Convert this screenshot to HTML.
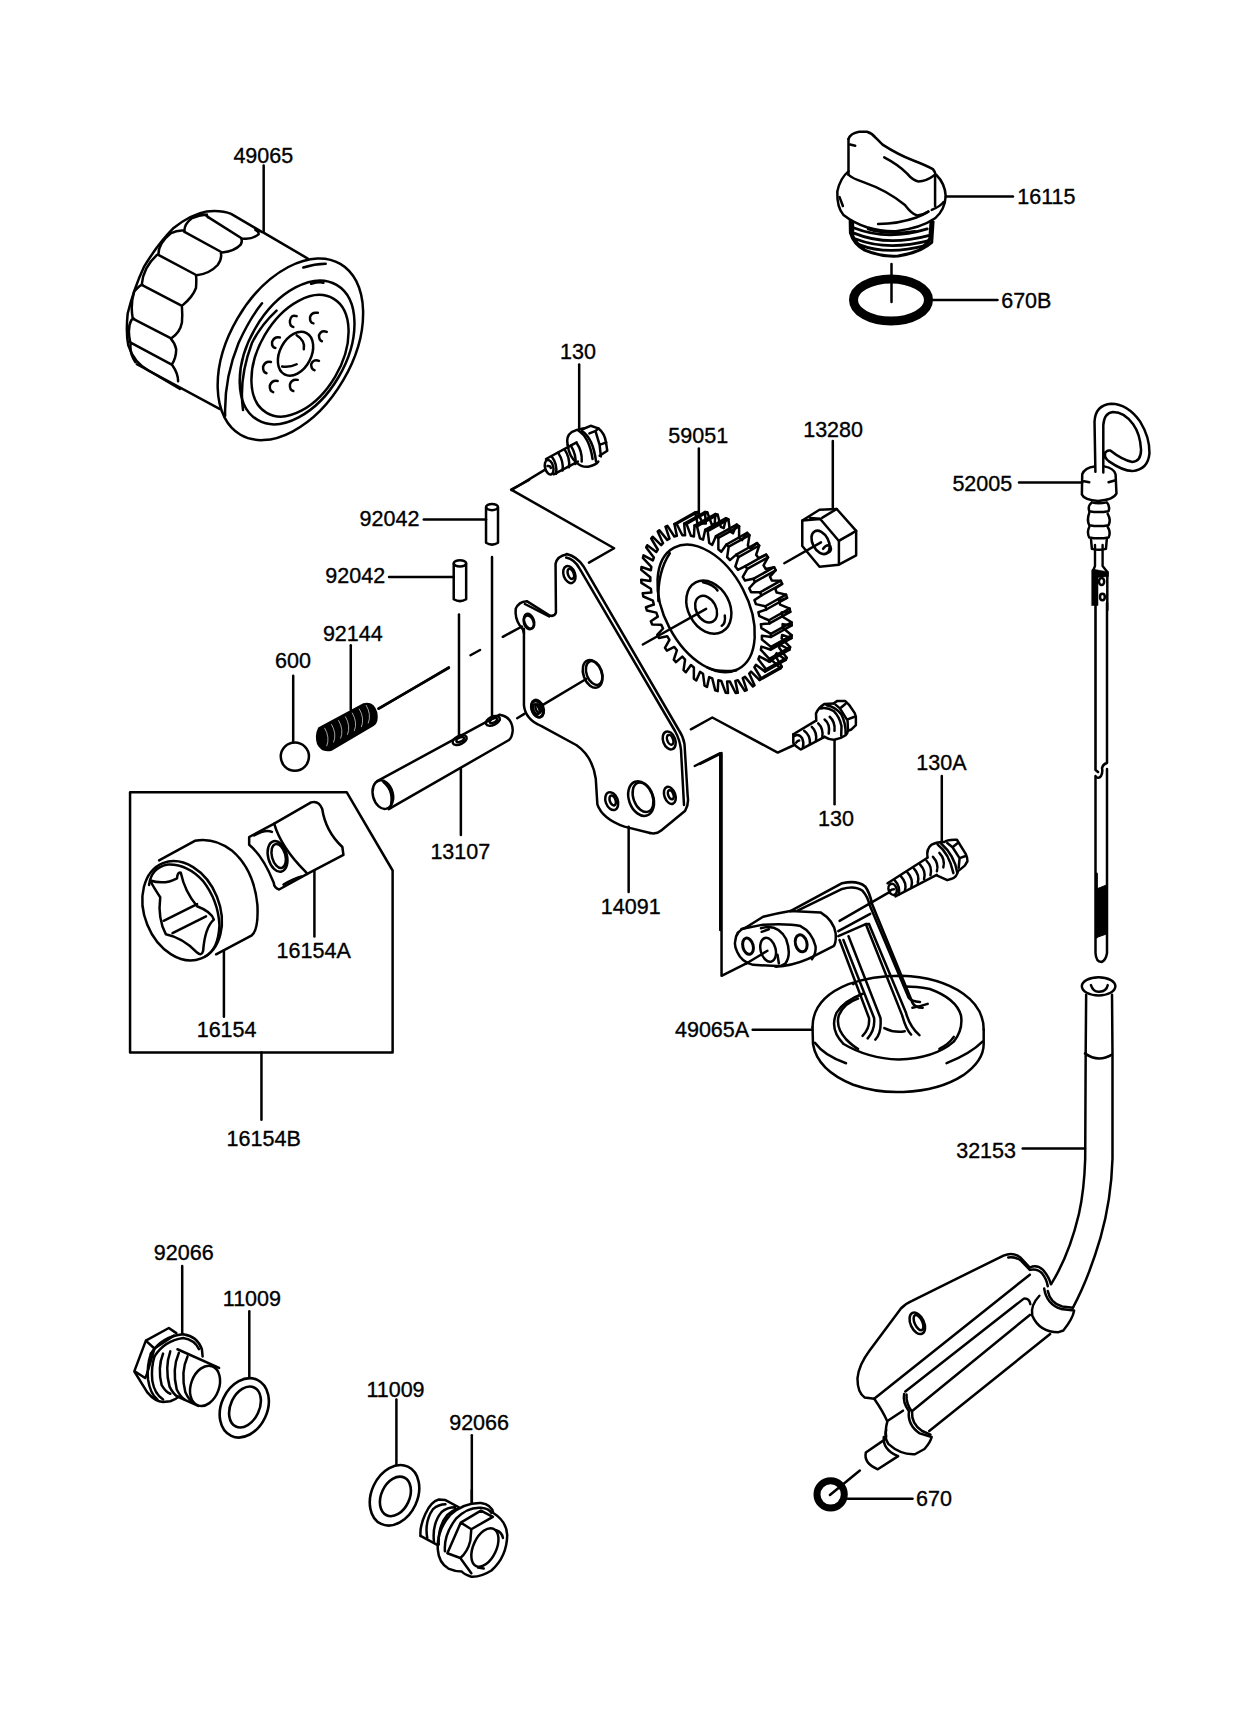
<!DOCTYPE html>
<html><head><meta charset="utf-8"><style>
html,body{margin:0;padding:0;background:#fff;}
svg{display:block;}
text{font-family:"Liberation Sans",sans-serif;font-size:21.5px;fill:#000;stroke:#000;stroke-width:0.35px;}
.s path,.s line,.s ellipse,.s polyline,.s polygon,.s circle,.s rect{fill:none;stroke:#000;stroke-width:2.5;vector-effect:non-scaling-stroke;stroke-linecap:round;stroke-linejoin:round;}
</style></head><body>
<svg width="1253" height="1729" viewBox="0 0 1253 1729">
<rect x="0" y="0" width="1253" height="1729" fill="#fff"/>
<!-- LABELS -->
<g id="labels">
<text x="233.4" y="162.5">49065</text>
<text x="1017.3" y="203.5">16115</text>
<text x="1001.2" y="308.1">670B</text>
<text x="560.0" y="358.9">130</text>
<text x="668.3" y="443.2">59051</text>
<text x="803.2" y="437.1">13280</text>
<text x="952.4" y="491.0">52005</text>
<text x="359.6" y="526.4">92042</text>
<text x="325.3" y="583.3">92042</text>
<text x="322.9" y="640.5">92144</text>
<text x="275.0" y="668.2">600</text>
<text x="916.3" y="770.2">130A</text>
<text x="818.0" y="825.5">130</text>
<text x="430.4" y="859.1">13107</text>
<text x="600.8" y="914.0">14091</text>
<text x="276.6" y="957.9">16154A</text>
<text x="196.7" y="1036.7">16154</text>
<text x="675.0" y="1036.6">49065A</text>
<text x="226.6" y="1146.2">16154B</text>
<text x="956.2" y="1157.8">32153</text>
<text x="153.8" y="1259.5">92066</text>
<text x="222.8" y="1305.7">11009</text>
<text x="366.4" y="1397.2">11009</text>
<text x="449.2" y="1430.3">92066</text>
<text x="916.1" y="1505.6">670</text>
</g>
<!-- FILTER 49065: lobes (zoom origin 120,205 scale 7.83) -->
<g class="s" transform="translate(120,205) scale(0.12771)">
<line x1="1125" y1="-310" x2="1125" y2="210"/>
<path d="M1110,210 L870,70 Q800,40 680,50 Q560,70 420,180 Q300,300 190,480 Q110,650 60,850 Q45,1000 65,1100 Q110,1240 230,1300 L470,1440"/>
<path d="M690,95 L955,262 Q1030,275 1085,230 Q1090,210 1060,195"/>
<path d="M505,210 L800,372 Q900,360 945,310 Q960,280 950,265"/>
<path d="M300,390 L600,550 Q700,540 765,470 Q800,420 790,380"/>
<path d="M170,625 L485,790 Q570,720 595,650 Q600,580 595,555"/>
<path d="M100,890 L400,1045 Q470,1000 485,920 Q490,860 485,800"/>
<path d="M80,1075 L405,1250 Q440,1200 440,1130 Q430,1080 400,1050"/>
<path d="M410,1255 Q455,1320 455,1380"/>
<path d="M690,95 Q660,60 600,80 M505,210 Q500,150 560,105 Q620,80 680,75 M300,390 Q300,300 400,220 Q450,195 500,200 M170,625 Q180,490 290,390 M100,890 Q80,780 110,680 Q150,630 175,625 M80,1075 Q55,960 90,900 Q100,890 110,890 M85,1080 Q70,1150 120,1230"/>
</g>
<!-- FILTER face (origin 100,200 scale 4.475) -->
<g class="s" transform="translate(100,200) scale(0.22346)">
<ellipse cx="852" cy="668" rx="443" ry="274" transform="rotate(-59.7 852 668)"/>
<path d="M560,965 Q555,800 620,640 Q670,530 725,462"/>
<path d="M910,302 Q960,285 1010,285"/>
<ellipse cx="882" cy="682" rx="350" ry="216" transform="rotate(-59.7 882 682)"/>
<path d="M640,940 Q620,800 680,640 Q720,560 790,495"/>
<path d="M945,375 Q980,365 1000,370"/>
<ellipse cx="895" cy="697" rx="296" ry="183" transform="rotate(-59.7 895 697)"/>
<path d="M165,735 L535,935"/>
<path d="M730,145 L930,262"/>
<ellipse cx="875" cy="688" rx="105" ry="70" transform="rotate(-62 875 688)"/>
<path d="M880,605 Q920,630 912,668 M815,745 Q850,750 880,735"/>
<path d="M880,520 Q855,510 850,540 Q848,565 865,568"/>
<path d="M975,505 Q945,500 940,525 Q938,548 955,552"/>
<path d="M1015,590 Q990,580 980,605 Q980,628 993,632"/>
<path d="M805,615 Q780,610 770,635 Q768,660 785,662"/>
<path d="M980,720 Q955,710 945,735 Q945,758 960,762"/>
<path d="M765,725 Q740,720 730,745 Q728,770 745,775"/>
<path d="M795,810 Q770,805 760,830 Q758,855 775,860"/>
<path d="M885,805 Q858,800 850,825 Q848,850 865,855"/>
</g>
<!-- CAP 16115 (origin 820,120 scale 8.95) -->
<g class="s" transform="translate(820,120) scale(0.11173)">
<path d="M255,170 L255,490"/>
<path d="M255,170 Q270,120 350,105 L420,105 Q470,120 500,160 L560,220 Q700,310 830,360 Q960,410 1010,440 Q1035,470 1030,490"/>
<path d="M270,220 L315,230"/>
<path d="M575,335 Q700,400 780,480 Q830,540 880,550 Q950,550 1030,490"/>
<path d="M1030,500 L1030,770"/>
<path d="M255,490 Q280,520 400,560 Q600,630 760,760 Q820,840 870,855 Q930,850 970,820"/>
<path d="M255,460 Q180,520 155,640 Q150,780 210,850 Q300,920 420,960 Q560,1000 680,995 Q900,970 1030,880 Q1120,800 1125,680 Q1120,570 1040,490"/>
<path d="M175,690 L205,770"/>
<path d="M1000,805 Q1080,770 1105,735"/>
<path d="M520,930 Q700,930 870,870 Q930,845 970,820"/>
<path d="M270,900 L272,1010 Q300,1110 400,1165 Q550,1228 700,1218 Q900,1185 1000,1095 L1012,910" style="stroke-width:3"/>
<path d="M290,920 L292,1040 Q320,1110 390,1150 M995,920 L985,1060 Q960,1110 900,1150" style="stroke-width:3.5"/>
<path d="M300,965 Q600,1085 960,975" style="stroke-width:2.8"/>
<path d="M310,1015 Q600,1135 970,1035" style="stroke-width:2.8"/>
<path d="M320,1065 Q600,1175 975,1080" style="stroke-width:2.8"/>
<path d="M350,1115 Q600,1215 940,1125" style="stroke-width:2.8"/>
<path d="M430,975 Q600,1030 850,995" style="stroke-width:2.5"/>
<path d="M1125,685 L1727,685"/>
</g>
<!-- O-ring 670B -->
<g class="s">
<ellipse cx="891" cy="300" rx="37.5" ry="21" style="stroke-width:9"/>
<line x1="891.5" y1="264" x2="891.5" y2="302"/>
<line x1="933" y1="300" x2="997.5" y2="300"/>
</g>
<!-- BOLT 130 top (origin 500,330 scale 7.83) -->
<g class="s" transform="translate(500,330) scale(0.12771)">
<line x1="620" y1="270" x2="620" y2="775"/>
<path d="M530,900 Q515,830 560,800 Q600,780 650,772"/>
<path d="M610,785 Q700,840 725,1010"/>
<path d="M640,790 Q730,850 752,1030"/>
<path d="M530,900 Q540,990 600,1040 Q640,1075 690,1070 Q750,1060 770,1030"/>
<path d="M650,775 L710,750 L770,770 Q820,810 830,880 L840,945 L780,985"/>
<path d="M700,810 L750,790 L770,770"/>
<path d="M750,800 L780,900 L790,990 M780,900 L832,880"/>
<path d="M360,1010 L600,880"/>
<path d="M420,1130 L610,1030"/>
<path d="M405,990 Q450,1050 440,1125 M455,960 Q500,1030 490,1100 M505,935 Q550,1000 540,1075 M555,905 Q600,980 590,1050 M600,885 Q645,950 640,1030"/>
<ellipse cx="385" cy="1075" rx="32" ry="58" transform="rotate(-15 385 1075)"/>
<path d="M372,1065 Q395,1062 398,1080"/>
<path d="M350,1095 L90,1253"/>
</g>
<!-- PINS / PLATE top (origin 340,480 scale 4.177) -->
<g class="s" transform="translate(340,480) scale(0.2394)">
<path d="M610,115 L610,262 Q635,278 660,262 L660,115"/>
<ellipse cx="635" cy="113" rx="25" ry="13"/>
<path d="M475,350 L475,498 Q501,514 527,498 L527,350"/>
<ellipse cx="501" cy="348" rx="26" ry="13"/>
<line x1="635" y1="322" x2="635" y2="985"/>
<line x1="497" y1="562" x2="497" y2="1065"/>
<line x1="350" y1="165" x2="610" y2="165"/>
<line x1="205" y1="405" x2="475" y2="405"/>
<line x1="45" y1="690" x2="45" y2="960"/>
<path d="M790,0 L715,40 L1145,285 L1040,345"/>
<path d="M768.3,640 Q766,622 750,606 Q730,575 734,538 Q746,508 780,506 L876,566 Q896,572 902,554 L900.4,350 Q906,318 948,310"/>
<path d="M772,518 L874,570"/>
<ellipse cx="958" cy="395" rx="24" ry="37" transform="rotate(-20 958 395)"/>
<ellipse cx="964" cy="392" rx="12" ry="22" transform="rotate(-20 964 392)"/>
<ellipse cx="790" cy="590" rx="20" ry="32" transform="rotate(-20 790 590)"/>
<ellipse cx="825" cy="955" rx="25" ry="38" transform="rotate(-20 825 955)"/>
<ellipse cx="820" cy="958" rx="12" ry="22" transform="rotate(-20 820 958)"/>
<ellipse cx="1055" cy="810" rx="38" ry="60" transform="rotate(-20 1055 810)"/>
<ellipse cx="1062" cy="806" rx="32" ry="52" transform="rotate(-20 1062 806)"/>
<line x1="1030" y1="830" x2="830" y2="950"/>
<line x1="740" y1="995" x2="770" y2="977"/>
<line x1="160" y1="955" x2="455" y2="785"/>
<line x1="545" y1="732" x2="585" y2="710"/>
<line x1="680" y1="655" x2="760" y2="612"/>
</g>
<!-- NUT 13280 (origin 780,500 scale 13.92) -->
<g class="s" transform="translate(780,500) scale(0.07184)">
<line x1="735" y1="-820" x2="735" y2="125"/>
<path d="M310,285 L550,135 L790,125 L1060,430 L1060,770 L820,900 L550,930 L310,640 Z"/>
<path d="M310,285 L560,265 L820,570 L820,895"/>
<path d="M420,250 L560,262 M590,245 L790,125 M820,570 L1060,430 M840,555 L1005,465"/>
<ellipse cx="565" cy="590" rx="110" ry="175" transform="rotate(-28 565 590)" style="stroke-width:2.6"/>
<path d="M600,680 Q650,610 700,640 Q730,720 660,735"/>
<line x1="60" y1="880" x2="570" y2="590"/>
</g>
<!--GEAR--><g class="s" transform="translate(620,410) scale(0.20751)">
<line x1="380" y1="185" x2="380" y2="500"/>
<path d="M591.6,1292.4 L610.8,1349.8 L601.3,1353.8 L568.1,1302.2 L555.9,1305.4 L567.8,1362.6 L557.3,1364.0 L529.7,1308.7 L516.2,1308.8 L520.7,1364.3 L509.5,1363.1 L488.1,1305.7 L473.8,1302.6 L470.8,1354.9 L459.0,1351.2 L444.5,1293.1 L429.9,1286.9 L419.3,1334.6 L407.4,1328.4 L400.1,1271.3 L385.5,1262.2 L367.7,1303.9 L355.9,1295.5 L356.1,1240.9 L341.9,1229.1 L317.3,1263.8 L306.1,1253.3 L313.7,1202.8 L300.3,1188.6 L269.7,1215.2 L259.2,1203.0 L274.1,1157.9 L261.8,1141.8 L226.0,1159.6 L216.6,1146.0 L238.3,1107.5 L227.5,1089.9 L187.4,1098.5 L179.4,1083.8 L207.4,1053.0 L198.4,1034.3 L155.1,1033.4 L148.6,1018.1 L182.1,995.8 L175.1,976.6 L129.9,966.3 L125.1,950.7 L163.1,937.5 L158.4,918.3 L112.4,898.8 L109.5,883.5 L151.1,879.8 L148.6,861.1 L103.2,832.9 L102.3,818.2 L146.2,824.1 L146.2,806.4 L102.5,770.4 L103.5,756.7 L148.7,772.0 L151.1,755.9 L110.3,713.0 L113.3,700.6 L158.4,725.0 L163.1,710.8 L126.4,662.1 L131.3,651.5 L175.1,684.2 L182.1,672.3 L150.4,619.3 L157.0,610.7 L198.4,650.9 L207.4,641.7 L181.7,585.7 L189.8,579.4 L227.6,625.9 L238.4,619.6 L219.2,562.2 L228.7,558.2 L261.9,609.8 L274.1,606.6 L262.2,549.4 L272.7,548.0 L300.3,603.3 L313.8,603.2 L309.3,547.7 L320.5,548.9 L341.9,606.3 L356.2,609.4 L359.2,557.1 L371.0,560.8 L385.5,618.9 L400.1,625.1 L410.7,577.4 L422.6,583.6 L429.9,640.7 L444.5,649.8 L462.3,608.1 L474.1,616.5 L473.9,671.1 L488.1,682.9 L512.7,648.2 L523.9,658.7 L516.3,709.2 L529.7,723.4 L560.3,696.8 L570.8,709.0 L555.9,754.1 L568.2,770.2 L604.0,752.4 L613.4,766.0 L591.7,804.5 L602.5,822.1 L642.6,813.5 L650.6,828.2 L622.6,859.0 L631.6,877.7 L674.9,878.6 L681.4,893.9 L647.9,916.2 L654.9,935.4 L700.1,945.7 L704.9,961.3 L666.9,974.5 L671.6,993.7 L717.6,1013.2 L720.5,1028.5 L678.9,1032.2 L681.4,1050.9 L726.8,1079.1 L727.7,1093.8 L683.8,1087.9 L683.8,1105.6 L727.5,1141.6 L726.5,1155.3 L681.3,1140.0 L678.9,1156.1 L719.7,1199.0 L716.7,1211.4 L671.6,1187.0 L666.9,1201.2 L703.6,1249.9 L698.7,1260.5 L654.9,1227.8 L647.9,1239.7 L679.6,1292.7 L673.0,1301.3 L631.6,1261.1 L622.6,1270.3 L648.3,1326.3 L640.2,1332.6 L602.4,1286.1 Z"/>
<path d="M374.1,550.6 L362.2,493.4 L372.7,492.0 L400.3,547.3 L413.8,547.2 M413.8,547.2 L409.3,491.7 L420.5,492.9 L441.9,550.3 L456.2,553.4 M456.2,553.4 L459.2,501.1 L471.0,504.8 L485.5,562.9 L500.1,569.1 M500.1,569.1 L510.7,521.4 L522.6,527.6 L529.9,584.7 L544.5,593.8 M544.5,593.8 L562.3,552.1 L574.1,560.5 L573.9,615.1 L588.1,626.9 M588.1,626.9 L612.7,592.2 L623.9,602.7 L616.3,653.2 L629.7,667.4 M629.7,667.4 L660.3,640.8 L670.8,653.0 L655.9,698.1 L668.2,714.2 M668.2,714.2 L704.0,696.4 L713.4,710.0 L691.7,748.5 L702.5,766.1 M702.5,766.1 L742.6,757.5 L750.6,772.2 L722.6,803.0 L731.6,821.7 M731.6,821.7 L774.9,822.6 L781.4,837.9 L747.9,860.2 L754.9,879.4 M754.9,879.4 L800.1,889.7 L804.9,905.3 L766.9,918.5 L771.6,937.7 M771.6,937.7 L817.6,957.2 L820.5,972.5 L778.9,976.2 L781.4,994.9 M781.4,994.9 L826.8,1023.1 L827.7,1037.8 L783.8,1031.9 L783.8,1049.6 M783.8,1049.6 L827.5,1085.6 L826.5,1099.3 L781.3,1084.0 L778.9,1100.1 M778.9,1100.1 L819.7,1143.0 L816.7,1155.4 L771.6,1131.0 L766.9,1145.2 M766.9,1145.2 L803.6,1193.9 L798.7,1204.5 L754.9,1171.8 L747.9,1183.7 M747.9,1183.7 L779.6,1236.7 L773.0,1245.3 L731.6,1205.1 L722.6,1214.3"/>
<path d="M262.2,549.4 L362.2,493.4 M272.7,548.0 L372.7,492.0 M309.3,547.7 L409.3,491.7 M320.5,548.9 L420.5,492.9 M359.2,557.1 L459.2,501.1 M371.0,560.8 L471.0,504.8 M410.7,577.4 L510.7,521.4 M422.6,583.6 L522.6,527.6 M462.3,608.1 L562.3,552.1 M474.1,616.5 L574.1,560.5 M512.7,648.2 L612.7,592.2 M523.9,658.7 L623.9,602.7 M560.3,696.8 L660.3,640.8 M570.8,709.0 L670.8,653.0 M604.0,752.4 L704.0,696.4 M613.4,766.0 L713.4,710.0 M642.6,813.5 L742.6,757.5 M650.6,828.2 L750.6,772.2 M674.9,878.6 L774.9,822.6 M681.4,893.9 L781.4,837.9 M700.1,945.7 L800.1,889.7 M704.9,961.3 L804.9,905.3 M717.6,1013.2 L817.6,957.2 M720.5,1028.5 L820.5,972.5 M726.8,1079.1 L826.8,1023.1 M727.7,1093.8 L827.7,1037.8 M727.5,1141.6 L827.5,1085.6 M726.5,1155.3 L826.5,1099.3 M719.7,1199.0 L819.7,1143.0 M716.7,1211.4 L816.7,1155.4 M703.6,1249.9 L803.6,1193.9 M698.7,1260.5 L798.7,1204.5 M679.6,1292.7 L779.6,1236.7 M673.0,1301.3 L773.0,1245.3"/>
<ellipse cx="415" cy="956" rx="331" ry="200" transform="rotate(62.3 415 956)"/>
<path d="M185,920 Q180,780 240,690"/>
<ellipse cx="428" cy="950" rx="135" ry="100" transform="rotate(62 428 950)"/>
<ellipse cx="415" cy="960" rx="68" ry="48" transform="rotate(62 415 960)"/>
<path d="M400,830 Q450,840 470,870 M505,990 Q510,1030 490,1040"/>
<line x1="110" y1="1130" x2="415" y2="958"/>
<path d="M420,1240 Q470,1265 560,1255"/>
</g><!--/GEAR-->
<!-- SPRING/BALL/SHAFT (origin 260,640 scale 4.819) -->
<g class="s" transform="translate(260,640) scale(0.20751)">
<line x1="160" y1="172" x2="160" y2="495"/>
<circle cx="168" cy="562" r="68"/>
<path d="M285,425 L500,310 Q545,300 560,350 Q568,395 545,410 L345,528 Q300,540 280,500 Q268,460 285,425 Z" style="fill:#000;stroke-width:2.3"/>
<path d="M312,425 Q338,470 322,510 M345,407 Q371,452 355,492 M379,388 Q405,433 389,473 M412,370 Q438,415 422,455 M445,352 Q471,397 455,437 M479,333 Q505,378 489,418 M512,315 Q538,360 522,400 " style="stroke:#fff;stroke-width:0.8;opacity:0.8"/>
<path d="M565,680 L1155,360 Q1215,370 1218,435 Q1215,470 1200,482 L620,815"/>
<ellipse cx="592" cy="745" rx="48" ry="70" transform="rotate(-15 592 745)"/>
<path d="M595,685 Q650,730 628,810"/>
<ellipse cx="962" cy="482" rx="36" ry="20" transform="rotate(-25 962 482)"/>
<ellipse cx="965" cy="480" rx="20" ry="10" transform="rotate(-25 965 480)"/>
<ellipse cx="1122" cy="390" rx="36" ry="20" transform="rotate(-25 1122 390)"/>
<ellipse cx="1125" cy="388" rx="20" ry="10" transform="rotate(-25 1125 388)"/>
<line x1="968" y1="620" x2="968" y2="940"/>
<line x1="575" y1="330" x2="910" y2="132"/>
</g>
<!-- PLATE lower + bolt130 lower (origin 500,600 scale 3.1325) -->
<g class="s" transform="translate(500,600) scale(0.31923)">
<path d="M75,90 L75,330 Q80,375 130,395 L240,455 Q290,490 300,560 L305,640 Q320,685 390,710 L470,730"/>
<ellipse cx="90" cy="70" rx="15" ry="22" transform="rotate(-20 90 70)"/>
<ellipse cx="117" cy="342" rx="17" ry="26" transform="rotate(-20 117 342)"/>
<ellipse cx="120" cy="340" rx="8" ry="14" transform="rotate(-20 120 340)"/>
<ellipse cx="530" cy="440" rx="19" ry="29" transform="rotate(-20 530 440)"/>
<ellipse cx="533" cy="438" rx="9" ry="16" transform="rotate(-20 533 438)"/>
<ellipse cx="350" cy="630" rx="19" ry="29" transform="rotate(-20 350 630)"/>
<ellipse cx="353" cy="628" rx="9" ry="16" transform="rotate(-20 353 628)"/>
<ellipse cx="442" cy="622" rx="38" ry="56" transform="rotate(-20 442 622)"/>
<ellipse cx="448" cy="618" rx="30" ry="48" transform="rotate(-20 448 618)"/>
<ellipse cx="532" cy="612" rx="17" ry="28" transform="rotate(-20 532 612)"/>
<ellipse cx="535" cy="610" rx="8" ry="15" transform="rotate(-20 535 610)"/>
<line x1="403" y1="710" x2="403" y2="915"/>
<path d="M598,405 L665,368 L870,478 L920,455"/>
<path d="M610,520 L690,480 L690,1034"/>
<line x1="1048" y1="440" x2="1048" y2="640"/>
</g>
<!-- plate right edge (source coords) -->
<g class="s">
<path d="M566.8,554 Q577,556.6 583.4,566.2 L678.8,730 Q683,736 684.5,744 L687.7,796.3 Q689,804 685.2,810.7 L661.2,830.5 Q656.4,834.6 650,833"/>
<path d="M566.2,557.5 Q574.5,559.2 579.6,568.7 L675,731 Q680,740 681,750 L684,805"/>
</g>
<!-- STRAINER 49065A + bolt 130A (origin 700,740 scale 4.177) -->
<g class="s" transform="translate(700,740) scale(0.2394)">
<line x1="1010" y1="150" x2="1010" y2="420"/>
<line x1="220" y1="1210" x2="470" y2="1210"/>
<path d="M0,100 L90,55 L90,985 L200,930"/>
<path d="M470,1200 Q470,1080 620,1020 Q720,985 840,985 Q1000,990 1100,1060 Q1185,1120 1185,1210"/>
<path d="M470,1200 L472,1270 Q490,1380 640,1440 Q740,1475 850,1470 Q1000,1465 1100,1400 Q1185,1340 1185,1270 L1185,1210"/>
<path d="M480,1265 Q520,1320 610,1350 M1030,1350 Q1130,1310 1180,1260"/>
<path d="M640,1020 L650,1010"/>
<path d="M680,1060 Q600,1090 570,1140 Q540,1210 600,1270 Q700,1330 830,1335 Q980,1330 1060,1260 Q1100,1210 1090,1150 Q1070,1080 960,1040 Q900,1030 860,1030"/>
<path d="M1000,1290 Q1040,1270 1060,1240"/>
<path d="M660,1080 Q600,1100 580,1150 Q565,1200 610,1250 Q640,1280 660,1290"/>
</g>
<!-- BOX 16154B (origin 120,780 scale 4.475) -->
<g class="s" transform="translate(120,780) scale(0.22346)">
<path d="M45,55 L1015,55 L1220,405 L1220,1220 L45,1220 Z"/>
<line x1="633" y1="1220" x2="633" y2="1520"/>
<line x1="465" y1="762" x2="465" y2="1060"/>
<line x1="870" y1="410" x2="870" y2="700"/>
<ellipse cx="278" cy="585" rx="168" ry="230" transform="rotate(-22 278 585)"/>
<path d="M130,470 Q140,390 215,378 Q300,375 370,450 Q440,540 445,650 Q440,760 380,790"/>
<path d="M175,360 L335,272 Q420,255 500,315 Q600,400 615,560 Q620,670 590,695 L430,780"/>
<path d="M135,450 Q200,470 255,440 Q258,410 272,415 Q290,500 345,565 Q410,590 420,625 Q380,660 372,765 Q365,790 345,772 Q280,705 205,690 Q168,620 180,525 Q150,480 135,450 Z"/>
<path d="M195,630 L345,555 M235,685 L385,610"/>
<path d="M578,255 L690,195 Q720,300 830,410 L838,420 L712,490 Q690,482 688,460 Q640,340 578,290 Z"/>
<path d="M690,195 L855,100 Q890,90 905,130 Q920,230 995,300 L1000,335 L838,420"/>
<ellipse cx="705" cy="342" rx="42" ry="70" transform="rotate(-15 705 342)"/>
<ellipse cx="710" cy="340" rx="30" ry="55" transform="rotate(-15 710 340)"/>
<path d="M600,248 Q650,220 680,232 M732,468 Q780,440 812,432"/>
</g>
<!-- DIPSTICK top (origin 940,390 scale 5.695) -->
<g class="s" transform="translate(940,390) scale(0.17559)">
<line x1="450" y1="527" x2="810" y2="527"/>
<path d="M885,465 L880,180 Q885,85 975,78 Q1070,80 1140,180 Q1195,270 1193,360 Q1185,455 1095,462 Q1040,460 960,405 Q935,385 940,360 Q950,340 970,345 Q1040,400 1095,410 Q1145,405 1145,340 Q1140,250 1100,195 Q1050,125 985,125 Q935,130 930,200 L930,470"/>
<path d="M880,435 Q825,440 810,480 L808,595 Q820,625 900,632 Q990,625 1005,590 L1000,480 Q990,445 935,435"/>
<path d="M820,520 L850,525 M960,525 L995,515"/>
<path d="M865,640 Q840,660 850,690 Q900,700 960,690 Q970,660 950,640 Q900,650 865,640"/>
<path d="M850,700 Q835,740 850,770 Q905,780 960,770 Q975,740 955,705"/>
<path d="M850,780 Q835,810 850,840 Q905,850 960,840 Q975,810 955,780"/>
<path d="M860,850 L865,905 Q905,915 945,905 L950,850"/>
</g>
<!-- DIPSTICK rod (source coords) -->
<g class="s">
<path d="M1095.5,603 L1095.5,770 L1098,772" style="stroke-width:2.6"/>
<path d="M1107,603 L1107,763 Q1103,764 1102,768 Q1103,772 1101,776 Q1099,779 1096,777"/>
<path d="M1095.5,776 L1095.5,953 Q1096,962 1101.5,962 Q1106,960 1107,953 L1107,769"/>
<path d="M1096.5,874 L1096.5,937" style="stroke-width:2.8"/>
<path d="M1096.5,889 L1106.5,885 L1106.5,934 L1096.5,937.5 Z" style="fill:#000;stroke-width:1"/>
</g>
<!-- TUBE 32153 (origin 830,960 scale 4.177) -->
<g class="s" transform="translate(830,960) scale(0.2394)">
<line x1="805" y1="787" x2="1065" y2="787"/>
<ellipse cx="1122" cy="110" rx="70" ry="38"/>
<path d="M1090,105 Q1100,135 1125,133 Q1155,130 1160,105"/>
<path d="M1070,145 L1068,390 L1066,830 Q1062,960 1040,1060 Q1000,1230 925,1352"/>
<path d="M1178,145 L1180,390 L1180,830 Q1175,1000 1130,1160 Q1080,1330 1015,1452"/>
<path d="M1065,390 Q1120,430 1178,395"/>
</g>
<!-- BRACKET + 670 (origin 800,1200 scale 4.177) -->
<g class="s" transform="translate(800,1200) scale(0.2394)">
<line x1="200" y1="1248" x2="470" y2="1248"/>
<circle cx="128" cy="1230" r="57" style="stroke-width:7"/>
<path d="M125,1232 L250,1130 M370,920 L430,880"/>
<path d="M310,830 L270,825 Q240,805 240,745 Q245,690 290,630 L420,455 Q440,432 470,420 L850,232 Q890,215 920,240 L960,282 Q990,268 1015,292 Q1040,320 1048,352"/>
<path d="M870,240 Q900,235 925,255 L960,292 Q990,285 1010,305 Q1030,330 1035,360"/>
<path d="M310,830 L960,312"/>
<path d="M310,830 Q345,880 365,925 Q355,960 360,990"/>
<path d="M440,800 L935,412 Q958,410 962,435 M470,880 L960,480 M540,965 L1045,560"/>
<path d="M1020,370 Q1030,435 1090,455 L1145,462 Q1140,495 1100,545 L1080,552 Q1000,552 970,482 Q962,440 1000,400"/>
<path d="M1035,380 Q1045,430 1095,445 L1140,450"/>
<path d="M435,810 Q428,845 455,882 Q448,940 500,975 L550,990 Q545,1012 520,1040 L480,1062 Q420,1065 370,1020 Q350,990 360,960"/>
<path d="M445,812 Q442,850 468,885 Q465,935 510,965 L545,980"/>
<path d="M350,990 Q345,1040 405,1068 M275,1055 Q265,1100 325,1125 L410,1070 M275,1055 L355,1000"/>
<ellipse cx="490" cy="515" rx="28" ry="48" transform="rotate(-25 490 515)"/>
<ellipse cx="495" cy="512" rx="16" ry="34" transform="rotate(-25 495 512)"/>
</g>
<!-- PLUG 1 92066 + washer 11009 (origin 120,1230 scale 6.961) -->
<g class="s" transform="translate(120,1230) scale(0.14366)">
<line x1="433" y1="250" x2="433" y2="720"/>
<line x1="900" y1="565" x2="900" y2="1030"/>
<path d="M180,770 L340,682 L392,718 M100,982 L180,770 M100,985 L190,1130 Q245,1195 300,1197 L350,1192 Q390,1178 410,1160"/>
<path d="M185,775 L240,825 L375,735 M240,825 L185,1010 M105,985 L175,1030 L185,1010"/>
<path d="M215,860 Q290,740 440,725 Q540,740 570,830 L575,880"/>
<path d="M240,880 Q310,770 440,752 Q520,765 550,830"/>
<path d="M215,860 Q185,950 195,1040 Q210,1140 260,1180 M240,880 Q215,960 225,1050 Q240,1140 300,1180"/>
<path d="M400,830 L690,960 M400,1160 L545,1225"/>
<path d="M300,860 Q260,960 290,1080 Q320,1130 350,1140 M350,845 Q310,960 345,1090 Q370,1140 400,1160 M410,855 Q360,970 395,1110 Q420,1160 450,1180 M470,880 Q420,990 455,1130 Q480,1185 510,1200"/>
<ellipse cx="592" cy="1085" rx="98" ry="145" transform="rotate(20 592 1085)"/>
<ellipse cx="865" cy="1238" rx="160" ry="215" transform="rotate(25 865 1238)" style="stroke-width:2.6"/>
<ellipse cx="870" cy="1232" rx="100" ry="150" transform="rotate(25 870 1232)" style="stroke-width:2.6"/>
</g>
<!-- washer 11009 #2 + PLUG 2 (origin 350,1370 scale 6.961) -->
<g class="s" transform="translate(350,1370) scale(0.14366)">
<line x1="323" y1="205" x2="323" y2="660"/>
<line x1="848" y1="455" x2="848" y2="925"/>
<ellipse cx="310" cy="872" rx="160" ry="220" transform="rotate(25 310 872)" style="stroke-width:2.6"/>
<ellipse cx="316" cy="880" rx="98" ry="145" transform="rotate(25 316 880)" style="stroke-width:2.6"/>
</g>
<g class="s" transform="translate(410,1490) scale(0.09579)">
<path d="M110,480 Q100,380 160,250 Q220,120 300,100 L370,105 L510,180"/>
<path d="M110,480 L280,570"/>
<path d="M180,500 Q150,330 240,200 Q300,150 370,150 M250,540 Q230,350 330,230 Q390,180 470,180 M300,570 Q290,380 390,260 Q450,210 500,195"/>
<path d="M290,620 Q280,420 420,260 Q560,130 740,135 Q850,150 870,240 Q1010,330 1015,470 Q1010,700 850,840 Q740,910 640,905 Q560,880 540,850 Q470,850 400,820 Q300,760 290,620"/>
<path d="M365,640 Q350,470 480,300 Q600,175 740,185 Q830,195 850,240"/>
<path d="M530,340 L740,215 L865,280 M530,340 L640,410 L865,280 M640,410 L630,530 Q600,650 525,710 L390,660 M525,710 L640,870 M530,340 Q460,500 390,660"/>
<ellipse cx="782" cy="600" rx="120" ry="215" transform="rotate(25 782 600)"/>
<path d="M900,420 Q960,440 970,500 M710,810 L770,820"/>
<line x1="645" y1="0" x2="645" y2="130"/>
</g>
<!-- BOLT 130A (origin 870,820 scale 11.39) -->
<g class="s" transform="translate(870,820) scale(0.08779)">
<path d="M655,425 Q640,330 700,282 Q760,245 850,250 Q880,220 990,225 L1090,385 Q1112,430 1110,470 L1080,520 L1000,585 Q990,650 930,670 L880,685 L760,630"/>
<path d="M770,280 Q900,380 950,605 M810,268 Q960,400 995,600"/>
<path d="M880,262 L940,310 L1000,262 M940,310 L1020,435 L1090,410 M1020,440 L1010,545"/>
<path d="M200,720 L655,430 M290,870 L760,625"/>
<path d="M280,685 Q350,760 325,850 M353,641 Q423,716 398,806 M426,596 Q496,671 471,761 M499,552 Q569,627 544,717 M571,508 Q641,583 616,673 M644,464 Q714,539 689,629 M717,419 Q787,494 762,584 M790,375 Q860,450 835,540 "/>
<ellipse cx="258" cy="790" rx="45" ry="65" transform="rotate(-20 258 790)"/>
<path d="M232,805 Q245,790 272,790"/>
</g>
<!-- BRACKET of strainer (origin 720,860 scale 6.961) -->
<g class="s" transform="translate(720,860) scale(0.14366)">
<path d="M105,570 Q110,490 180,470 L300,395 Q400,370 490,355 L700,365 Q790,420 805,510 Q810,580 790,600 L660,665 Q560,720 430,740 L230,730 Q150,710 120,640 Q100,600 105,570 Z"/>
<path d="M150,480 L300,450 Q480,440 560,460 Q640,500 665,600 Q670,650 640,690"/>
<ellipse cx="195" cy="600" rx="36" ry="58" transform="rotate(-15 195 600)" style="stroke-width:3"/>
<ellipse cx="335" cy="625" rx="52" ry="85" transform="rotate(-15 335 625)"/>
<path d="M285,475 Q400,440 460,550 Q500,660 455,720 Q420,745 385,742"/>
<path d="M290,500 L340,482 M400,660 L410,720"/>
<ellipse cx="565" cy="580" rx="40" ry="60" transform="rotate(-15 565 580)" style="stroke-width:3"/>
<line x1="180" y1="722" x2="330" y2="632"/>
</g>
<!-- STEM of strainer (origin 800,880 scale 7.83) -->
<g class="s" transform="translate(800,880) scale(0.12771)">
<path d="M-75,243 L330,25 Q450,0 510,50 Q545,95 565,190 L880,960 Q900,1000 960,1000" style="stroke-width:2.6"/>
<path d="M-19,240 L330,70 Q430,40 490,85 Q530,130 545,195 L850,920 Q870,950 940,955"/>
<path d="M515,345 L800,1060 Q830,1170 870,1210"/>
<path d="M540,345 L830,1040 Q860,1150 935,1215"/>
<path d="M300,400 L550,265 M300,440 L515,345 L540,345"/>
<path d="M310,470 L540,1080 Q550,1160 490,1220"/>
<path d="M340,470 L580,1080 Q590,1170 530,1240"/>
<path d="M380,440 L630,1080 Q640,1200 590,1250"/>
<path d="M310,320 L700,95"/>
<path d="M660,1160 Q740,1200 820,1185"/>
<path d="M880,1000 Q940,990 1000,970"/>
</g>
<!-- dipstick mid (source) -->
<g class="s">
<path d="M1095,545 L1095,566 L1093,571 M1102.6,545 L1102.6,566 L1107.3,572" style="stroke-width:2.4"/>
<path d="M1091.8,570 L1092.5,569 L1108.5,572 L1108.5,576.5 L1098,577.5 L1098,605.5 L1091.8,605.5 Z" style="fill:#000;stroke-width:0.5"/>
<path d="M1107.3,572 L1107.3,610"/>
<ellipse cx="1101.6" cy="581.5" rx="2.6" ry="3.6"/>
<ellipse cx="1102.4" cy="597" rx="2.4" ry="3.2"/>
</g>
<!-- BOLT 130 lower (origin 785,695 scale 15.66) -->
<g class="s" transform="translate(785,695) scale(0.06386)">
<path d="M130,615 L480,405 M250,850 L620,655"/>
<path d="M130,615 L130,750 Q160,805 240,850"/>
<path d="M150,640 Q220,600 270,680 Q300,760 280,820"/>
<path d="M175,745 Q195,715 222,712"/>
<path d="M300,560 Q400,630 390,770 M420,500 Q505,580 485,720 M520,445 Q605,525 585,670 M620,385 Q710,455 685,605 M700,340 Q790,420 775,560"/>
<path d="M490,405 L485,290 Q520,200 620,140 L760,135"/>
<path d="M620,655 Q700,705 770,702 Q870,685 950,630 Q980,600 985,560"/>
<path d="M560,210 Q660,190 760,250 Q860,350 885,490 L880,640"/>
<path d="M650,160 Q780,180 880,300 Q950,430 950,610"/>
<path d="M760,132 L820,92 L940,92 L1000,150 L1090,280 L1110,340 L1110,470 L1040,540 L985,560"/>
<path d="M790,150 L860,210 L945,140 M860,210 L970,385 L1080,345 M980,400 L985,545"/>
</g>
</svg>
</body></html>
